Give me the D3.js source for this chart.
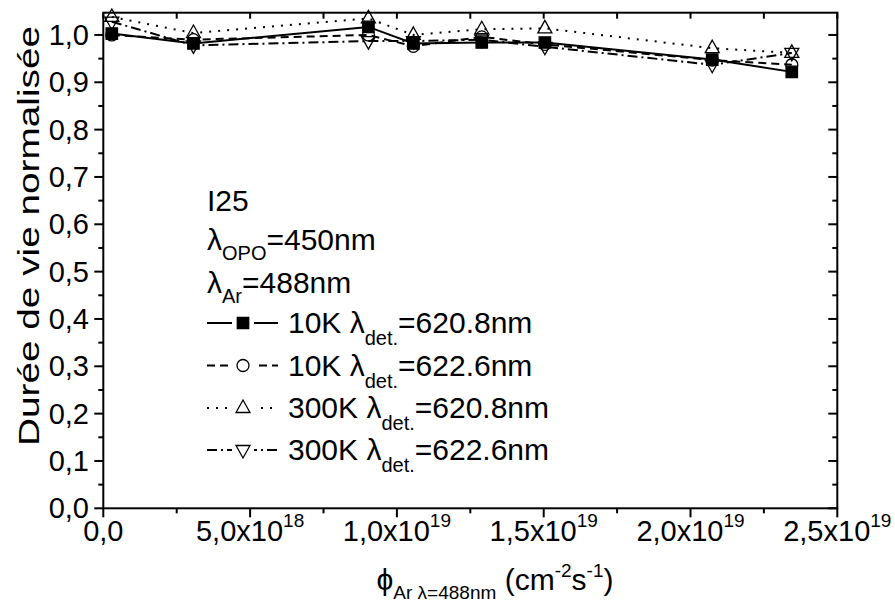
<!DOCTYPE html>
<html><head><meta charset="utf-8">
<script src="https://cdn.jsdelivr.net/npm/d3@7"></script>
<style>body{margin:0;background:#fff} text{font-family:"Liberation Sans",Arial,sans-serif;fill:#000}</style>
</head><body><svg id="c" width="895" height="610"></svg>
<script>
// ---- data ----
const fluxX = [2.9e17, 3.07e18, 9.03e18, 1.056e19, 1.289e19, 1.504e19, 2.074e19, 2.345e19];
const s10K_620 = [1.003, 0.982, 1.017, 0.982, 0.984, 0.984, 0.948, 0.922];
const s10K_622 = [1.0, 0.99, 1.0, 0.976, 0.996, 0.98, 0.947, 0.937];
const s300K_620 = [1.038, 1.004, 1.035, 1.0, 1.012, 1.014, 0.972, 0.962];
const s300K_622 = [1.028, 0.978, 0.987, 0.987, 0.99, 0.975, 0.937, 0.962];
const seriesTemp = ["10K", "10K", "300K", "300K"];
const seriesDet = ["=620.8nm", "=622.6nm", "=620.8nm", "=622.6nm"];
const xTickVals = [0, 5e18, 1e19, 1.5e19, 2e19, 2.5e19];
const xTickMant = ["0,0", "5,0x10", "1,0x10", "1,5x10", "2,0x10", "2,5x10"];
const xTickExp = ["", "18", "19", "19", "19", "19"];
const yTickVals = [0, 0.1, 0.2, 0.3, 0.4, 0.5, 0.6, 0.7, 0.8, 0.9, 1.0];
const yTickLabels = ["0,0", "0,1", "0,2", "0,3", "0,4", "0,5", "0,6", "0,7", "0,8", "0,9", "1,0"];

const seriesVals = [s10K_620, s10K_622, s300K_620, s300K_622];
const styles = [
  {dash: null, marker: "square"},
  {dash: "8,5", marker: "circle"},
  {dash: "2,7", marker: "up"},
  {dash: "10,4,2,4", marker: "down"}
];

const svg = d3.select("#c");
const x = d3.scaleLinear().domain([0, 2.5e19]).range([103.3, 837.3]);
const y = d3.scaleLinear().domain([0, 1.047]).range([508.3, 12.7]);

function markerPath(type) {
  if (type === "square") return d3.symbol(d3.symbolSquare, 130)();
  if (type === "circle") return d3.symbol(d3.symbolCircle, 113)();
  if (type === "up") return "M0,-8L7,4.5L-7,4.5Z";
  return "M0,8L7,-4.5L-7,-4.5Z";
}
function drawMarker(g, type, cx, cy) {
  g.append("path").attr("d", markerPath(type))
    .attr("transform", `translate(${cx},${cy})`)
    .attr("fill", type === "square" ? "#000" : "none")
    .attr("stroke", "#000").attr("stroke-width", 1.3);
}

// ---- data lines ----
const line = d3.line().x(d => x(d[0])).y(d => y(d[1]));
const plot = svg.append("g");
seriesVals.forEach((vals, i) => {
  const pts = fluxX.map((fx, j) => [fx, vals[j]]);
  plot.append("path").attr("d", line(pts)).attr("fill", "none")
    .attr("stroke", "#000").attr("stroke-width", 2)
    .attr("stroke-dasharray", styles[i].dash);
});
seriesVals.forEach((vals, i) => {
  fluxX.forEach((fx, j) => drawMarker(plot, styles[i].marker, x(fx), y(vals[j])));
});

// ---- axes ----
const ax = svg.append("g").attr("stroke", "#000").attr("stroke-width", 2);
ax.append("rect").attr("x", x(0)).attr("y", y(1.047))
  .attr("width", x(2.5e19) - x(0)).attr("height", y(0) - y(1.047)).attr("fill", "none");

const xMinor = d3.range(0, 11).map(k => k * 2.5e18);
xMinor.forEach((v, k) => {
  const major = k % 2 === 0;
  ax.append("line").attr("x1", x(v)).attr("x2", x(v)).attr("y1", y(0)).attr("y2", y(0) + (major ? 9 : 5));
  ax.append("line").attr("x1", x(v)).attr("x2", x(v)).attr("y1", y(1.047)).attr("y2", y(1.047) + 6);
});
const yMinor = d3.range(0, 21).map(k => k * 0.05);
yMinor.forEach((v, k) => {
  const major = k % 2 === 0;
  ax.append("line").attr("y1", y(v)).attr("y2", y(v)).attr("x1", x(0)).attr("x2", x(0) - (major ? 9 : 5));
  ax.append("line").attr("y1", y(v)).attr("y2", y(v)).attr("x1", x(2.5e19)).attr("x2", x(2.5e19) - (major ? 9 : 5));
});

// y tick labels
svg.append("g").selectAll("text").data(yTickVals).join("text")
  .attr("x", 89).attr("y", d => y(d) + 10).attr("text-anchor", "end")
  .attr("font-size", 29).text((d, i) => yTickLabels[i]);

// x tick labels
xTickVals.forEach((v, i) => {
  const t = svg.append("text").attr("x", x(v)).attr("y", 541).attr("text-anchor", "middle").attr("font-size", 29);
  t.append("tspan").text(xTickMant[i]);
  if (xTickExp[i]) t.append("tspan").attr("dy", -14).attr("font-size", 19).text(xTickExp[i]);
});

// axis titles
svg.append("text").attr("transform", "translate(39,236) rotate(-90)")
  .attr("text-anchor", "middle").attr("font-size", 30)
  .attr("textLength", 420).attr("lengthAdjust", "spacingAndGlyphs")
  .text("Durée de vie normalisée");
const xt = svg.append("text").attr("x", 495).attr("y", 590).attr("text-anchor", "middle").attr("font-size", 30);
xt.append("tspan").text("ϕ");
xt.append("tspan").attr("dy", 9).attr("font-size", 19).text("Ar λ=488nm");
xt.append("tspan").attr("dy", -9).text(" (cm");
xt.append("tspan").attr("dy", -13).attr("font-size", 19).text("-2");
xt.append("tspan").attr("dy", 13).text("s");
xt.append("tspan").attr("dy", -13).attr("font-size", 19).text("-1");
xt.append("tspan").attr("dy", 13).text(")");

// ---- legend ----
const lg = svg.append("g");
lg.append("text").attr("x", 207).attr("y", 211).attr("font-size", 30).text("I25");
function lambdaLine(yb, sub, rest) {
  const t = lg.append("text").attr("x", 207).attr("y", yb).attr("font-size", 30);
  t.append("tspan").text("λ");
  t.append("tspan").attr("dy", 10).attr("font-size", 20).text(sub);
  t.append("tspan").attr("dy", -10).text(rest);
}
lambdaLine(250, "OPO", "=450nm");
lambdaLine(293, "Ar", "=488nm");
const rowBase = [333, 375.5, 418, 460];
seriesVals.forEach((vals, i) => {
  const cy = rowBase[i] - 10;
  lg.append("line").attr("x1", 207).attr("x2", 278).attr("y1", cy).attr("y2", cy)
    .attr("stroke", "#000").attr("stroke-width", 2).attr("stroke-dasharray", styles[i].dash);
  lg.append("rect").attr("x", 232).attr("y", cy - 9).attr("width", 22).attr("height", 18).attr("fill", "#fff");
  drawMarker(lg, styles[i].marker, 243, cy);
  const t = lg.append("text").attr("x", 288).attr("y", rowBase[i]).attr("font-size", 30);
  t.append("tspan").text(seriesTemp[i] + " λ");
  t.append("tspan").attr("dy", 12).attr("font-size", 20).text("det.");
  t.append("tspan").attr("dy", -12).text(seriesDet[i]);
});
</script></body></html>
